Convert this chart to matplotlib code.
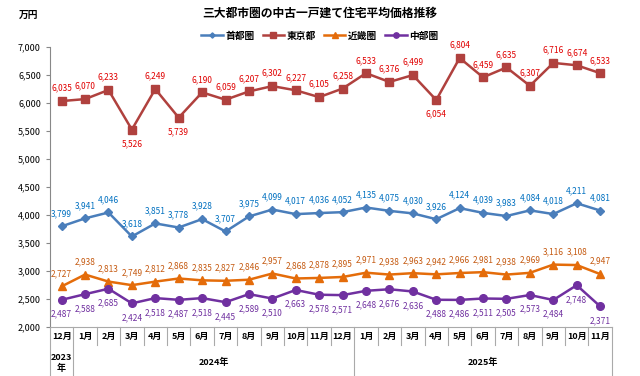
import numpy as np
import matplotlib.pyplot as plt
from matplotlib.ticker import FuncFormatter

plt.rcParams['font.family'] = ['Noto Sans CJK JP', 'DejaVu Sans']

# 月ラベル (2023年12月 ～ 2025年11月)
months = ['12月'] + [f'{m}月' for m in range(1, 13)] + [f'{m}月' for m in range(1, 12)]
years = ['2023\n年', '2024年', '2025年']
year_spans = [(0, 1), (1, 13), (13, 24)]

shutoken = [3799, 3941, 4046, 3618, 3851, 3778, 3928, 3707, 3975, 4099, 4017, 4036,
            4052, 4135, 4075, 4030, 3926, 4124, 4039, 3983, 4084, 4018, 4211, 4081]
tokyo = [6035, 6070, 6233, 5526, 6249, 5739, 6190, 6059, 6207, 6302, 6227, 6105,
         6258, 6533, 6376, 6499, 6054, 6804, 6459, 6635, 6307, 6716, 6674, 6533]
kinki = [2727, 2938, 2813, 2749, 2812, 2868, 2835, 2827, 2846, 2957, 2868, 2878,
         2895, 2971, 2938, 2963, 2942, 2966, 2981, 2938, 2969, 3116, 3108, 2947]
chubu = [2487, 2588, 2685, 2424, 2518, 2487, 2518, 2445, 2589, 2510, 2663, 2578,
         2571, 2648, 2676, 2636, 2488, 2486, 2511, 2505, 2573, 2484, 2748, 2371]

# 東京都でラベルを下に置く点
tokyo_below = [3, 5, 16]

x = np.arange(len(months))

fig = plt.figure(figsize=(6.4, 3.76), dpi=100)
ax = fig.add_axes([0.078, 0.130, 0.878, 0.745])

series = [
    ('首都圏', shutoken, '#4a7ebb', 'D', 3.8, '#0070c0'),
    ('東京都', tokyo, '#b0413e', 's', 5.8, '#e00000'),
    ('近畿圏', kinki, '#e46c0a', '^', 6, '#c55a11'),
    ('中部圏', chubu, '#7030a0', 'o', 5.5, '#7030a0'),
]

for name, vals, col, mk, ms, lcol in series:
    ax.plot(x, vals, color=col, marker=mk, markersize=ms, linewidth=1.8, label=name)
    for i, v in enumerate(vals):
        below = (name == '中部圏') or (name == '東京都' and i in tokyo_below)
        ax.annotate(f'{v:,}', (i, v), xytext=(0, -7 if below else 6),
                    textcoords='offset points', ha='center',
                    va='top' if below else 'bottom', fontsize=6, color=lcol)

ax.set_xlim(-0.5, len(months) - 0.5)
ax.set_ylim(2000, 7000)
ax.set_yticks(np.arange(2000, 7001, 500))
ax.yaxis.set_major_formatter(FuncFormatter(lambda v, p: f'{int(v):,}'))
ax.tick_params(axis='y', labelsize=6.5, length=3, color='#888888')
ax.set_xticks([])
for s in ['top', 'right']:
    ax.spines[s].set_visible(False)
ax.spines['left'].set_color('#888888')
ax.spines['bottom'].set_color('#aaaaaa')

# カテゴリ軸の表 (月・年)
trans = ax.get_xaxis_transform()
row1, row2 = -0.065, -0.17
for i, m in enumerate(months):
    ax.text(i, row1 / 2, m, transform=trans, ha='center', va='center',
            fontsize=6.5, fontweight='bold')
year_edges = {s for s, e in year_spans} | {e for s, e in year_spans}
for b in range(len(months) + 1):
    y0 = row2 if b in year_edges else row1
    ax.plot([b - 0.5, b - 0.5], [0, y0], transform=trans, color='#aaaaaa',
            linewidth=0.8, clip_on=False)
for (s, e), yl in zip(year_spans, years):
    ax.text((s + e - 1) / 2, (row1 + row2) / 2 - 0.01, yl, transform=trans,
            ha='center', va='center', fontsize=6.5, fontweight='bold', linespacing=1.2)

fig.text(0.5, 0.965, '三大都市圏の中古一戸建て住宅平均価格推移', ha='center', va='center',
         fontsize=8.5, fontweight='bold')
fig.text(0.03, 0.96, '万円', ha='left', va='center', fontsize=7, fontweight='bold')

fig.legend(loc='center', bbox_to_anchor=(0.5, 0.905), ncol=4, frameon=False,
           handlelength=2.2, columnspacing=0.8, handletextpad=0.3, markerscale=0.7,
           prop={'weight': 'bold', 'size': 7})

fig.savefig('out.png', dpi=100)
